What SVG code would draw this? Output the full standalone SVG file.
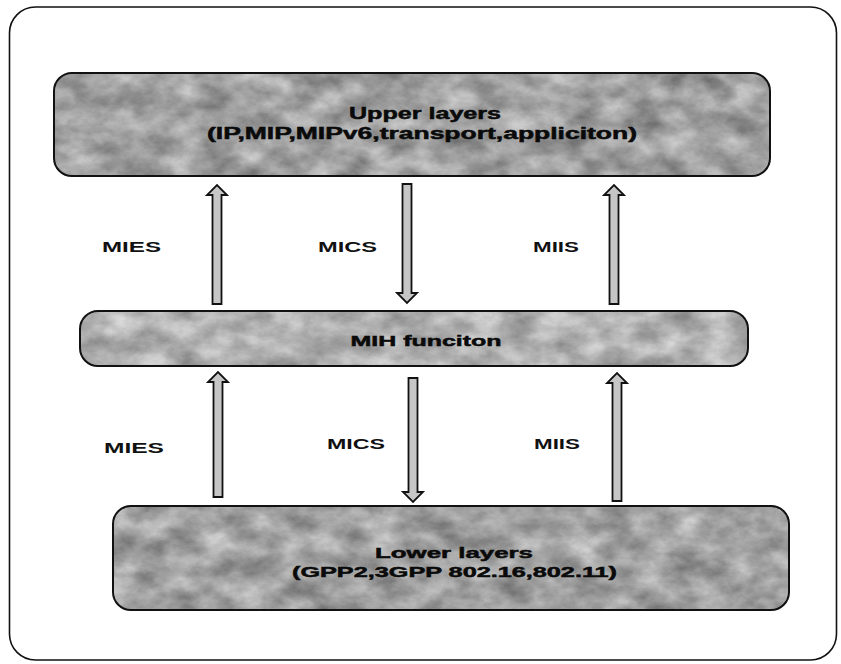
<svg xmlns="http://www.w3.org/2000/svg" width="841" height="664" viewBox="0 0 841 664">
<style>
.frame{fill:#fff;stroke:#111;stroke-width:1.6}
.boxline{fill:none;stroke:#111;stroke-width:2}
.bt{font-family:"Liberation Sans",Arial,sans-serif;font-weight:bold;fill:#0a0a0a;stroke:#0a0a0a;stroke-width:0.5;text-anchor:middle}
.lbl{font-family:"Liberation Sans",Arial,sans-serif;font-weight:bold;font-size:14px;fill:#111}
.arr{fill:#c6c6c6;stroke:#111;stroke-width:1.8;stroke-linejoin:miter}
</style>
<defs>
<filter id="tex" x="0" y="0" width="100%" height="100%" color-interpolation-filters="sRGB">
<feTurbulence type="fractalNoise" baseFrequency="0.03 0.045" numOctaves="7" seed="7" result="n"/>
<feColorMatrix in="n" type="matrix" values="0.5 0 0 0 0.38  0.5 0 0 0 0.38  0.5 0 0 0 0.38  0 0 0 0 1" result="g"/>
<feComposite in="g" in2="SourceGraphic" operator="in"/>
</filter>
<filter id="tex2" x="0" y="0" width="100%" height="100%" color-interpolation-filters="sRGB">
<feTurbulence type="fractalNoise" baseFrequency="0.03 0.045" numOctaves="7" seed="11" result="n"/>
<feColorMatrix in="n" type="matrix" values="0.45 0 0 0 0.47  0.45 0 0 0 0.47  0.45 0 0 0 0.47  0 0 0 0 1" result="g"/>
<feComposite in="g" in2="SourceGraphic" operator="in"/>
</filter>
</defs>

<rect class="frame" x="9.5" y="7" width="827" height="653" rx="26"/>

<g id="upper">
<rect x="54" y="73" width="716" height="103" rx="18" fill="#a0a0a0" filter="url(#tex)"/>
<rect class="boxline" x="54" y="73" width="716" height="103" rx="18"/>
<text class="bt" x="425" y="119" font-size="16" textLength="152" lengthAdjust="spacingAndGlyphs">Upper layers</text>
<text class="bt" x="422" y="139" font-size="16" textLength="430" lengthAdjust="spacingAndGlyphs">(IP,MIP,MIPv6,transport,appliciton)</text>
</g>

<g id="mih">
<rect x="80" y="311" width="668" height="55" rx="18" fill="#b0b0b0" filter="url(#tex2)"/>
<rect class="boxline" x="80" y="311" width="668" height="55" rx="18"/>
<text class="bt" x="426" y="346" font-size="15.5" textLength="151" lengthAdjust="spacingAndGlyphs">MIH funciton</text>
</g>

<g id="lower">
<rect x="113" y="506" width="676" height="104" rx="18" fill="#a0a0a0" filter="url(#tex)"/>
<rect class="boxline" x="113" y="506" width="676" height="104" rx="18"/>
<text class="bt" x="454" y="558" font-size="15" textLength="158" lengthAdjust="spacingAndGlyphs">Lower layers</text>
<text class="bt" x="454.5" y="577" font-size="15" textLength="325" lengthAdjust="spacingAndGlyphs">(GPP2,3GPP 802.16,802.11)</text>
</g>

<g id="connectors">
<polygon class="arr" points="212.5,304 221.5,304 221.5,195 227,195 217,185 207,195 212.5,195"/>
<polygon class="arr" points="402.5,184 411.5,184 411.5,293 417,293 407,303 397,293 402.5,293"/>
<polygon class="arr" points="609.5,304 618.5,304 618.5,195 624,195 614,185 604,195 609.5,195"/>
<polygon class="arr" points="213.5,497 222.5,497 222.5,382 228,382 218,372 208,382 213.5,382"/>
<polygon class="arr" points="408.5,378 417.5,378 417.5,492 423,492 413,502 403,492 408.5,492"/>
<polygon class="arr" points="612.5,501 621.5,501 621.5,383 627,383 617,373 607,383 612.5,383"/>
</g>

<g id="labels">
<text class="lbl" x="102" y="252" textLength="59" lengthAdjust="spacingAndGlyphs">MIES</text>
<text class="lbl" x="318" y="252" textLength="59" lengthAdjust="spacingAndGlyphs">MICS</text>
<text class="lbl" x="533" y="252" textLength="46" lengthAdjust="spacingAndGlyphs">MIIS</text>
<text class="lbl" x="104" y="453" textLength="60" lengthAdjust="spacingAndGlyphs">MIES</text>
<text class="lbl" x="327" y="449" textLength="58" lengthAdjust="spacingAndGlyphs">MICS</text>
<text class="lbl" x="534" y="449" textLength="46" lengthAdjust="spacingAndGlyphs">MIIS</text>
</g>
</svg>
